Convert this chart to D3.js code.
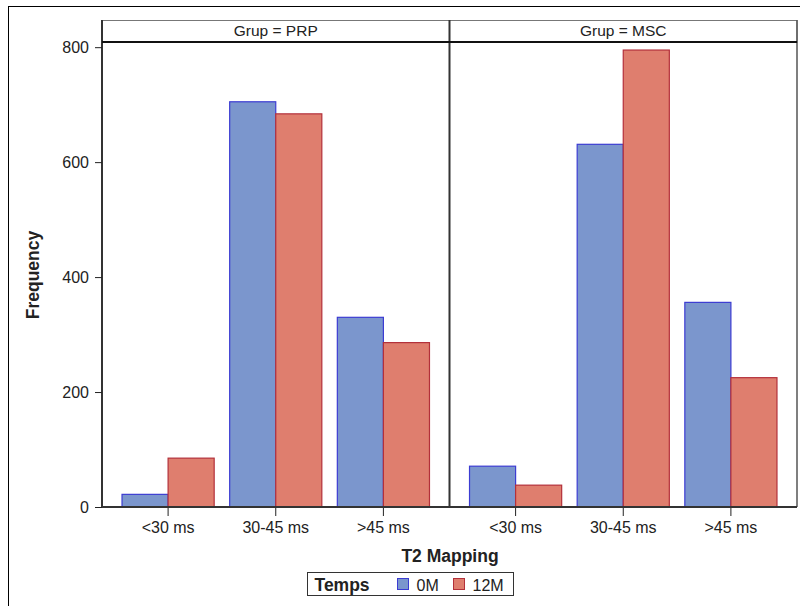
<!DOCTYPE html>
<html lang="en">
<head>
    <meta charset="UTF-8">
    <title>T2 Mapping</title>
    <script src="https://d3js.org/d3.v7.min.js"></script>
    <style>
        body { margin: 0; background: #fff; }
        text { font-family: "Liberation Sans", Arial, sans-serif; fill: #222; }
        .tick text { font-size: 16px; }
        .tick line { stroke: #222; }
        .domain { display: none; }
    </style>
</head>
<body>
<script>
    const width  = 800;
    const height = 606;

    const groups     = ["PRP", "MSC"];
    const categories = ["<30 ms", "30-45 ms", ">45 ms"];
    const temps      = ["0M", "12M"];
    const yTicks     = [0, 200, 400, 600, 800];

    // frequency per group, category order as above
    const prp0M  = [22, 705, 330];
    const prp12M = [85, 684, 286];
    const msc0M  = [71, 631, 356];
    const msc12M = [38, 795, 225];

    const values = {
        PRP: {"0M": prp0M, "12M": prp12M},
        MSC: {"0M": msc0M, "12M": msc12M}
    };

    const fills   = {"0M": "#7b96cd", "12M": "#df7e6e"};
    const strokes = {"0M": "#3c3cd2", "12M": "#b3303a"};

    const plotLeft = 102, plotRight = 797, plotTop = 42, plotBottom = 507, headerTop = 20;

    const svg = d3.select("body").append("svg").attr("width", width).attr("height", height);

    // outer border
    svg.append("rect").attr("x", 8.5).attr("y", 6.5).attr("width", 800).attr("height", 610)
       .attr("fill", "none").attr("stroke", "#000").attr("stroke-width", 1);

    const scaleG = d3.scaleBand().domain(groups).range([plotLeft, plotRight]);
    const scaleY = d3.scaleLinear().domain([0, 809]).range([plotBottom, plotTop]);

    const scaleX = d3.scaleBand().domain(categories)
                     .range([0, scaleG.bandwidth()])
                     .paddingInner(0.144).paddingOuter(0.186);
    const scaleT = d3.scaleBand().domain(temps).range([0, scaleX.bandwidth()]);

    groups.forEach(g => {
        const x0 = scaleG(g);
        const panel = svg.append("g").attr("transform", "translate(" + [x0, 0] + ")");

        // header cell
        panel.append("rect").attr("x", 0).attr("y", headerTop + 0.5)
             .attr("width", scaleG.bandwidth()).attr("height", plotTop - headerTop)
             .attr("fill", "none").attr("stroke", "#777");
        panel.append("text").attr("x", scaleG.bandwidth() / 2).attr("y", headerTop + 16)
             .attr("text-anchor", "middle").style("font-size", "15.5px")
             .text("Grup = " + g);

        // bars
        temps.forEach(t => {
            panel.selectAll(null).data(categories).enter().append("rect")
                 .attr("x", (c) => scaleX(c) + scaleT(t))
                 .attr("y", (c, i) => scaleY(values[g][t][i]))
                 .attr("width", scaleT.bandwidth())
                 .attr("height", (c, i) => scaleY(0) - scaleY(values[g][t][i]))
                 .attr("fill", fills[t])
                 .attr("stroke", strokes[t])
                 .attr("stroke-width", 1.2);
        });

        // x axis
        const xAxis = d3.axisBottom(scaleX).tickSize(9).tickPadding(6);
        panel.append("g").attr("transform", "translate(" + [0, plotBottom] + ")").call(xAxis);

        // panel frame
        panel.append("line").attr("x1", 0).attr("x2", 0).attr("y1", headerTop).attr("y2", plotBottom)
             .attr("stroke", "#333").attr("stroke-width", 2);
    });

    // right border, header underline, bottom axis line
    svg.append("line").attr("x1", plotRight).attr("x2", plotRight).attr("y1", headerTop).attr("y2", plotBottom)
       .attr("stroke", "#555").attr("stroke-width", 1.5);
    svg.append("line").attr("x1", plotLeft).attr("x2", plotRight).attr("y1", plotTop).attr("y2", plotTop)
       .attr("stroke", "#111").attr("stroke-width", 2);
    svg.append("line").attr("x1", plotLeft).attr("x2", plotRight).attr("y1", plotBottom).attr("y2", plotBottom)
       .attr("stroke", "#333").attr("stroke-width", 2);

    // y axis
    const yAxis = d3.axisLeft(scaleY).tickValues(yTicks).tickSize(7).tickPadding(6);
    svg.append("g").attr("transform", "translate(" + [plotLeft, 0] + ")").call(yAxis);

    // axis titles
    svg.append("text").attr("transform", "translate(39,275) rotate(-90)")
       .attr("text-anchor", "middle").style("font-size", "17.5px").style("font-weight", "bold")
       .text("Frequency");
    svg.append("text").attr("x", 450).attr("y", 562)
       .attr("text-anchor", "middle").style("font-size", "17.5px").style("font-weight", "bold")
       .text("T2 Mapping");

    // legend
    const legend = svg.append("g").attr("transform", "translate(307.5,572.5)");
    legend.append("rect").attr("width", 206).attr("height", 23)
          .attr("fill", "#fff").attr("stroke", "#333");
    legend.append("text").attr("x", 7).attr("y", 18)
          .style("font-size", "17.5px").style("font-weight", "bold").text("Temps");
    const legX = d3.scalePoint().domain(temps).range([90, 146]);
    temps.forEach(t => {
        legend.append("rect").attr("x", legX(t)).attr("y", 6).attr("width", 11).attr("height", 11)
              .attr("fill", fills[t]).attr("stroke", strokes[t]);
        legend.append("text").attr("x", legX(t) + 19).attr("y", 18)
              .style("font-size", "16px").text(t);
    });
</script>
</body>
</html>
